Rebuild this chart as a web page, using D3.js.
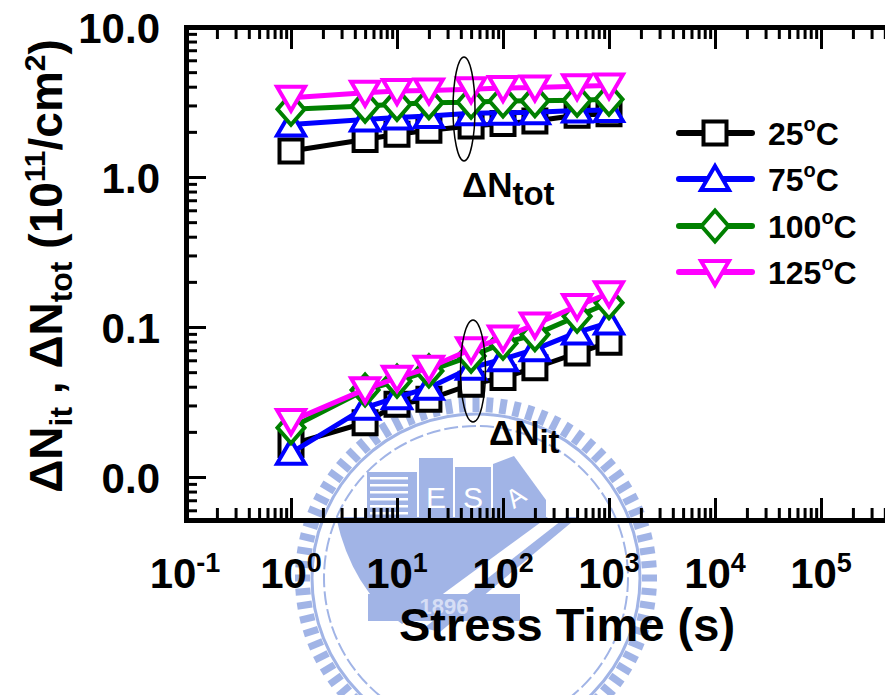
<!DOCTYPE html>
<html>
<head>
<meta charset="utf-8">
<script src="https://cdn.jsdelivr.net/npm/d3@7"></script>
<style>
  body { margin: 0; background: #ffffff; }
  svg { display: block; }
  text { font-family: Arial, "Liberation Sans", Helvetica, sans-serif; font-weight: bold; fill: #000; }
</style>
</head>
<body>
<svg id="chart" width="885" height="695"></svg>
<script>
// Stress times (s)
const times = [1, 5, 10, 20, 50, 100, 200, 500, 1000];

// Series: one per stress temperature
const temperatures = ["25", "75", "100", "125"];
const seriesColors = ["#000000", "#0000ff", "#008000", "#ff00ff"];
const markerShapes = ["square", "triangleUp", "diamond", "triangleDown"];

// Total trapped charge density, ΔN_tot (10^11 /cm^2)
const nTot25  = [1.49, 1.78, 1.93, 2.05, 2.19, 2.27, 2.36, 2.58, 2.64];
const nTot75  = [2.24, 2.42, 2.49, 2.55, 2.66, 2.68, 2.70, 2.78, 2.80];
const nTot100 = [2.83, 2.97, 3.05, 3.13, 3.15, 3.21, 3.22, 3.25, 3.30];
const nTot125 = [3.38, 3.65, 3.74, 3.78, 3.84, 3.92, 3.95, 4.03, 4.08];

// Interface trap density, ΔN_it (10^11 /cm^2)
const nIt25  = [0.0165, 0.023, 0.0305, 0.033, 0.0415, 0.046, 0.0535, 0.067, 0.079];
const nIt75  = [0.0145, 0.029, 0.034, 0.0394, 0.0535, 0.061, 0.071, 0.092, 0.107];
const nIt100 = [0.0213, 0.038, 0.0436, 0.051, 0.064, 0.078, 0.089, 0.118, 0.145];
const nIt125 = [0.0236, 0.0384, 0.0459, 0.0535, 0.071, 0.085, 0.104, 0.138, 0.168];

const nTotSeries = [nTot25, nTot75, nTot100, nTot125];
const nItSeries  = [nIt25, nIt75, nIt100, nIt125];

// Axis ticks
const xTickExponents = [-1, 0, 1, 2, 3, 4, 5];
const yTickValues = [0.01, 0.1, 1, 10];
const yTickLabels = ["0.0", "0.1", "1.0", "10.0"];

const svg = d3.select("#chart");
const plot = { left: 186, top: 27, bottom: 520 };

const x = d3.scaleLog().domain([0.1, 1e6]).range([185, 927]);
const y = d3.scaleLog().domain([0.00517, 10]).range([plot.bottom, plot.top]);

// ---------- faint university emblem in the background ----------
const wmColor = "#a1b4e6";
const wm = svg.append("g").attr("fill", wmColor).attr("stroke", "none");
const cx = 476, cy = 578;
const nTeeth = 80;
for (let i = 0; i < nTeeth; i++) {
  const a = i * 360 / nTeeth;
  wm.append("rect")
    .attr("x", -3.5).attr("y", -181).attr("width", 7).attr("height", 15)
    .attr("transform", `translate(${cx},${cy}) rotate(${a})`);
}
wm.append("circle").attr("cx", cx).attr("cy", cy).attr("r", 164)
  .attr("fill", "none").attr("stroke", wmColor).attr("stroke-width", 3);
wm.append("circle").attr("cx", cx).attr("cy", cy).attr("r", 152)
  .attr("fill", "none").attr("stroke", wmColor).attr("stroke-width", 2)
  .attr("stroke-dasharray", "14 4");
// globe-like body below the buildings, cut by a diagonal band
wm.append("path")
  .attr("d", "M336,517 L548,517 L402,624 Q352,590 336,517 Z");
wm.append("path")
  .attr("d", "M566,517 L578,517 L440,632 L424,628 Z");
// buildings
wm.append("rect").attr("x", 367).attr("y", 472).attr("width", 50).attr("height", 45);
for (let k = 0; k < 6; k++) {
  wm.append("rect").attr("x", 370).attr("y", 477 + k * 7).attr("width", 38).attr("height", 2.5).attr("fill", "#ffffff");
}
wm.append("rect").attr("x", 419).attr("y", 458).attr("width", 34).attr("height", 59);
wm.append("rect").attr("x", 455).attr("y", 467).attr("width", 36).attr("height", 50);
wm.append("path").attr("d", "M493,464 L514,456 L546,500 L546,517 L493,517 Z");
wm.append("text").attr("x", 436).attr("y", 508).attr("text-anchor", "middle")
  .style("font-size", "30px").style("fill", "#ffffff").style("font-weight", "normal").text("E");
wm.append("text").attr("x", 473).attr("y", 508).attr("text-anchor", "middle")
  .style("font-size", "30px").style("fill", "#ffffff").style("font-weight", "normal").text("S");
wm.append("text").attr("x", 515).attr("y", 506).attr("text-anchor", "middle")
  .style("font-size", "26px").style("fill", "#ffffff").style("font-weight", "normal")
  .attr("transform", "rotate(-35,515,496)").text("A");
// year plaque
wm.append("rect").attr("x", 368).attr("y", 594).attr("width", 152).attr("height", 27);
wm.append("text").attr("x", 444).attr("y", 614).attr("text-anchor", "middle")
  .style("font-size", "22px").style("fill", "#d6def5").text("1896");

// ---------- axes ----------
const minorX = [];
for (let e = -1; e <= 5; e++) for (let m = 2; m <= 9; m++) minorX.push(m * Math.pow(10, e));
const minorY = [];
for (let e = -3; e <= 0; e++) for (let m = 2; m <= 9; m++) {
  const v = m * Math.pow(10, e);
  if (v >= 0.00517 && v < 10) minorY.push(v);
}
const majorX = xTickExponents.map(e => Math.pow(10, e));

function styleAxis(g, width) {
  g.selectAll(".tick line").attr("stroke", "#000").attr("stroke-width", width);
  g.selectAll(".tick text").remove();
}

// bottom
svg.append("g").attr("transform", `translate(0,${plot.bottom})`)
  .call(d3.axisBottom(x).tickValues(minorX).tickSizeInner(-12).tickSizeOuter(0).tickFormat(""))
  .call(g => g.select(".domain").remove()).call(g => styleAxis(g, 3));
svg.append("g").attr("transform", `translate(0,${plot.bottom})`)
  .call(d3.axisBottom(x).tickValues(majorX).tickSizeInner(-22).tickSizeOuter(0).tickFormat(""))
  .call(g => g.select(".domain").attr("stroke", "#000").attr("stroke-width", 5))
  .call(g => styleAxis(g, 3));

// top
svg.append("g").attr("transform", `translate(0,${plot.top})`)
  .call(d3.axisTop(x).tickValues(minorX).tickSizeInner(-12).tickSizeOuter(0).tickFormat(""))
  .call(g => g.select(".domain").remove()).call(g => styleAxis(g, 3));
svg.append("g").attr("transform", `translate(0,${plot.top})`)
  .call(d3.axisTop(x).tickValues(majorX).tickSizeInner(-22).tickSizeOuter(0).tickFormat(""))
  .call(g => g.select(".domain").attr("stroke", "#000").attr("stroke-width", 5))
  .call(g => styleAxis(g, 3));

// left
svg.append("g").attr("transform", `translate(${plot.left},0)`)
  .call(d3.axisLeft(y).tickValues(minorY).tickSizeInner(-11).tickSizeOuter(0).tickFormat(""))
  .call(g => g.select(".domain").remove()).call(g => styleAxis(g, 3));
svg.append("g").attr("transform", `translate(${plot.left},0)`)
  .call(d3.axisLeft(y).tickValues(yTickValues).tickSizeInner(-20).tickSizeOuter(0).tickFormat(""))
  .call(g => g.select(".domain").attr("stroke", "#000").attr("stroke-width", 5).attr("stroke-linecap", "square"))
  .call(g => styleAxis(g, 3));

// y tick labels
svg.append("g").selectAll("text").data(yTickValues).join("text")
  .attr("x", 160).attr("y", d => y(d) + 16)
  .attr("text-anchor", "end").style("font-size", "42px")
  .text((d, i) => yTickLabels[i]);

// x tick labels 10^n
const xl = svg.append("g").selectAll("text").data(xTickExponents).join("text")
  .attr("x", d => x(Math.pow(10, d))).attr("y", 588)
  .attr("text-anchor", "middle").style("font-size", "42px");
xl.append("tspan").text("10");
xl.append("tspan").attr("dy", -16).style("font-size", "27px").text(d => String(d));

// axis titles
svg.append("text").attr("x", 567).attr("y", 641).attr("text-anchor", "middle")
  .style("font-size", "47px").text("Stress Time (s)");

const yt = svg.append("text")
  .attr("transform", "translate(62,266) rotate(-90)")
  .attr("text-anchor", "middle").style("font-size", "46px");
yt.append("tspan").text("ΔN");
yt.append("tspan").attr("dy", 10).style("font-size", "32px").text("it");
yt.append("tspan").attr("dy", -10).text(" , ΔN");
yt.append("tspan").attr("dy", 10).style("font-size", "32px").text("tot");
yt.append("tspan").attr("dy", -10).text(" (10");
yt.append("tspan").attr("dy", -17).style("font-size", "30px").text("11");
yt.append("tspan").attr("dy", 17).text("/cm");
yt.append("tspan").attr("dy", -17).style("font-size", "30px").text("2");
yt.append("tspan").attr("dy", 17).text(")");

// ---------- markers ----------
function markerPath(shape) {
  switch (shape) {
    case "square": return "M-11.5,-11.5H11.5V11.5H-11.5Z";
    case "triangleUp": return "M0,-13L14,11H-14Z";
    case "triangleDown": return "M0,13L14,-11H-14Z";
    case "diamond": return "M0,-15.5L13.5,0L0,15.5L-13.5,0Z";
  }
}

const line = d3.line().x(d => x(d[0])).y(d => y(d[1]));

function drawGroup(seriesList) {
  seriesList.forEach((vals, i) => {
    const pts = times.map((t, j) => [t, vals[j]]);
    const g = svg.append("g");
    g.append("path").attr("d", line(pts)).attr("fill", "none")
      .attr("stroke", seriesColors[i]).attr("stroke-width", 5).attr("stroke-linejoin", "round");
    g.selectAll("path.m").data(pts).join("path").attr("class", "m")
      .attr("d", markerPath(markerShapes[i]))
      .attr("transform", d => `translate(${x(d[0])},${y(d[1])})`)
      .attr("fill", "#fff").attr("stroke", seriesColors[i]).attr("stroke-width", 4)
      .attr("stroke-linejoin", "miter");
  });
}
drawGroup(nItSeries);
drawGroup(nTotSeries);

// group ellipses and labels
svg.append("ellipse").attr("cx", 464).attr("cy", 109).attr("rx", 11).attr("ry", 52)
  .attr("fill", "none").attr("stroke", "#000").attr("stroke-width", 1.5);
svg.append("ellipse").attr("cx", 473).attr("cy", 371).attr("rx", 12.5).attr("ry", 51)
  .attr("fill", "none").attr("stroke", "#000").attr("stroke-width", 1.5);

const lt = svg.append("text").attr("x", 462).attr("y", 197).style("font-size", "35px");
lt.append("tspan").text("ΔN");
lt.append("tspan").attr("dy", 8).style("font-size", "33px").text("tot");
const li = svg.append("text").attr("x", 489).attr("y", 445).style("font-size", "35px");
li.append("tspan").text("ΔN");
li.append("tspan").attr("dy", 8).style("font-size", "33px").text("it");

// ---------- legend ----------
const legendRows = [133, 179, 226, 272];
const lg = svg.append("g");
temperatures.forEach((t, i) => {
  const yy = legendRows[i];
  lg.append("line").attr("x1", 679).attr("x2", 752).attr("y1", yy).attr("y2", yy)
    .attr("stroke", seriesColors[i]).attr("stroke-width", 6).attr("stroke-linecap", "round");
  lg.append("path").attr("d", markerPath(markerShapes[i]))
    .attr("transform", `translate(715,${yy})`)
    .attr("fill", "#fff").attr("stroke", seriesColors[i]).attr("stroke-width", 4);
  const tx = lg.append("text").attr("x", 768).attr("y", yy + 12).style("font-size", "32px");
  tx.append("tspan").text(t);
  tx.append("tspan").attr("dy", -14).style("font-size", "20px").text("o");
  tx.append("tspan").attr("dy", 14).text("C");
});
</script>
</body>
</html>
